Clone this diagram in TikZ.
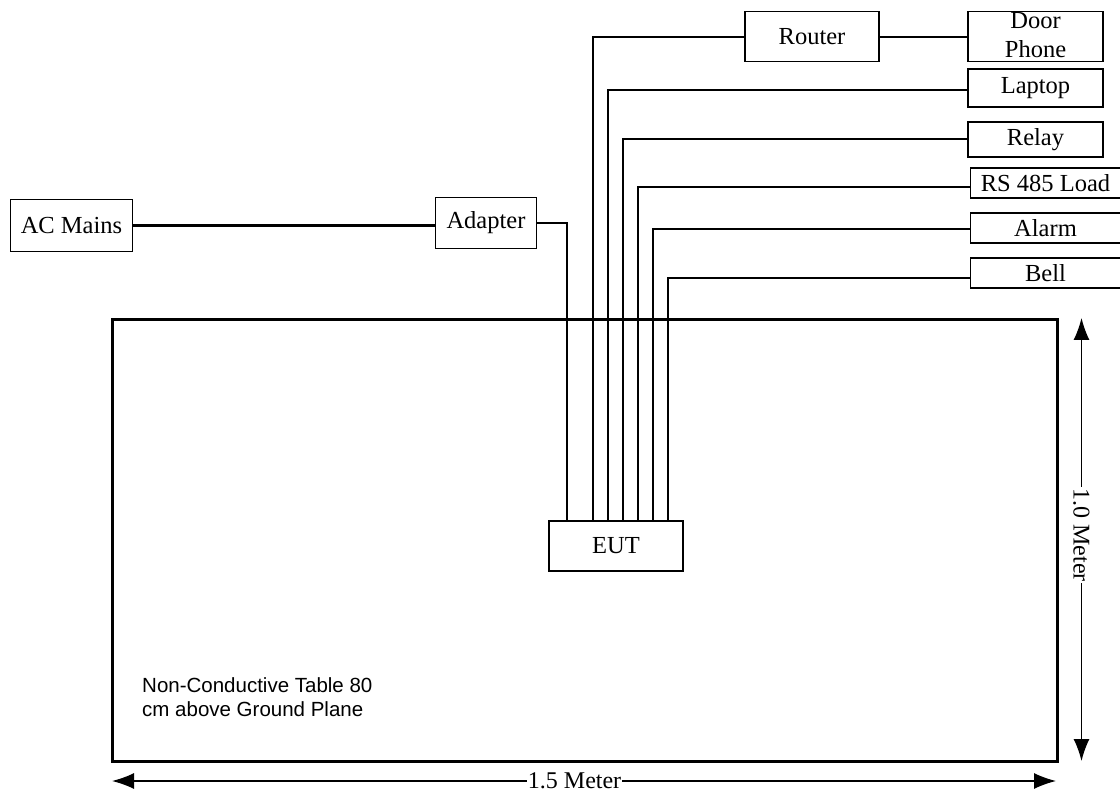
\documentclass[tikz,border=0pt]{standalone}
\usepackage{fontspec}
\setmainfont{Liberation Serif}
\setsansfont{Liberation Sans}
\usetikzlibrary{arrows.meta}
\begin{document}
\begin{tikzpicture}[x=1pt,y=-1pt,
  box/.style={draw,line width=1.5pt,inner sep=0pt,font=\fontsize{24.5}{28}\selectfont},
  wire/.style={line width=2pt},
  dim/.style={line width=1.3pt,{Latex[length=22pt,width=16pt]}-{Latex[length=22pt,width=16pt]}},
  dimlabel/.style={fill=white,inner sep=1pt,font=\fontsize{24}{28}\selectfont}]
\useasboundingbox (0,0) rectangle (1120,794);
% table
\draw[line width=3pt] (112,320) rectangle (1057,761);
% boxes
\node[box,minimum width=122pt,minimum height=52pt] (acmains) at (71.5,225.5) {AC Mains};
\node[box,minimum width=101pt,minimum height=51pt] (adapter) at (486,223) {Adapter};
\node[box,minimum width=134pt,minimum height=50pt] (router) at (812,36.7) {Router};
\node[box,minimum width=135pt,minimum height=50pt] (door) at (1035.5,36.7) {};
\node[font=\fontsize{24.5}{28}\selectfont,inner sep=0pt,anchor=base] (doorA) at (1035.5,29) {Door};
\node[font=\fontsize{24.5}{28}\selectfont,inner sep=0pt,anchor=base] (doorB) at (1035.5,58) {Phone};
\node[box,minimum width=135pt,minimum height=38pt] (laptop) at (1035.5,88) {Laptop};
\node[box,minimum width=135pt,minimum height=35pt] (relay) at (1035.5,139.5) {Relay};
\node[box,minimum width=150pt,minimum height=30pt] (rs) at (1045.5,183) {RS 485 Load};
\node[box,minimum width=150pt,minimum height=30pt] (alarm) at (1045.5,228) {Alarm};
\node[box,minimum width=150pt,minimum height=30pt] (bell) at (1045.5,273) {Bell};
\node[box,minimum width=134pt,minimum height=50pt] (eut) at (616,546) {EUT};
% wires
\draw[line width=3pt] (acmains) -- (acmains -| adapter.west);
\draw[wire] (adapter.east) -| (eut.north -| 567,0);
\draw[wire] (eut.north -| 593,0) |- (router.west);
\draw[wire] (router.east) -- (door.west);
\draw[wire] (eut.north -| 608,0) |- ([yshift=-2pt]laptop.west);
\draw[wire] (eut.north -| 623,0) |- (relay.west);
\draw[wire] (eut.north -| 638,0) |- ([yshift=-4.5pt]rs.west);
\draw[wire] (eut.north -| 653,0) |- ([yshift=-1.5pt]alarm.west);
\draw[wire] (eut.north -| 668,0) |- ([yshift=-5pt]bell.west);
% dimensions
\coordinate (vtop) at (1081.5,318);
\coordinate (vbot) at (1081.5,761);
\draw[dim] (vtop) -- (vbot) node[pos=0.49,dimlabel,rotate=-90] (vlab) {1.0 Meter};
\coordinate (hl) at (112,781);
\coordinate (hr) at (1056,781);
\draw[dim] (hl) -- (hr) node[pos=0.49,dimlabel] (hlab) {1.5 Meter};
% table label
\node[anchor=north west,align=left,inner sep=0pt,font=\sffamily\fontsize{20.5}{24}\selectfont] (tlab) at (142,677) {Non-Conductive Table 80\\cm above Ground Plane};
\end{tikzpicture}
\end{document}
